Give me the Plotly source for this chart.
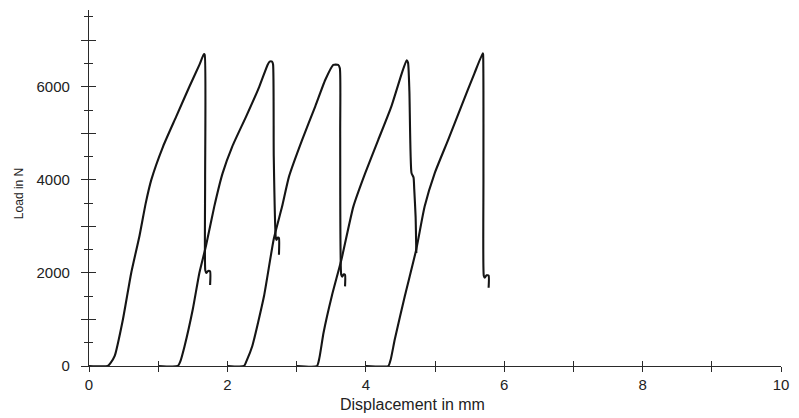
import plotly.graph_objects as go

# Load-displacement curves (Displacement in mm, Load in N)
x1 = [0.0, 0.27, 0.31, 0.37, 0.49, 0.61, 0.73, 0.82, 0.90, 1.07, 1.26, 1.45, 1.595, 1.66, 1.672, 1.678, 1.68, 1.695, 1.72, 1.75, 1.75]
y1 = [0, 0, 60, 210, 1000, 2000, 2800, 3500, 4000, 4716, 5360, 6000, 6470, 6700, 6690, 4000, 2060, 2000, 2040, 2030, 1740]

x2 = [1.0, 1.283, 1.32, 1.38, 1.50, 1.595, 1.69, 1.81, 1.93, 2.07, 2.27, 2.46, 2.58, 2.61, 2.645, 2.66, 2.67, 2.70, 2.71, 2.73, 2.745, 2.745]
y2 = [0, 0, 100, 420, 1220, 2000, 2580, 3425, 4140, 4716, 5360, 6000, 6470, 6540, 6540, 6480, 4500, 2750, 2710, 2760, 2750, 2390]

x3 = [2.0, 2.24, 2.28, 2.36, 2.53, 2.67, 2.79, 2.89, 3.08, 3.27, 3.415, 3.53, 3.60, 3.625, 3.63, 3.645, 3.66, 3.68, 3.70, 3.70]
y3 = [0, 0, 120, 430, 1510, 2730, 3425, 4070, 4860, 5580, 6150, 6470, 6470, 6400, 5000, 1960, 1920, 1970, 1960, 1710]

x4 = [3.0, 3.295, 3.33, 3.39, 3.51, 3.65, 3.82, 3.99, 4.18, 4.37, 4.52, 4.59, 4.61, 4.63, 4.66, 4.69, 4.70, 4.72, 4.73]
y4 = [0, 0, 180, 720, 1510, 2300, 3425, 4140, 4860, 5580, 6290, 6570, 6520, 5900, 4150, 4050, 3800, 3200, 2430]

x5 = [4.0, 4.325, 4.36, 4.42, 4.565, 4.73, 4.85, 4.995, 5.19, 5.38, 5.57, 5.69, 5.695, 5.70, 5.705, 5.72, 5.745, 5.775, 5.775]
y5 = [0, 0, 140, 580, 1510, 2510, 3425, 4140, 4860, 5580, 6290, 6720, 6700, 4000, 1940, 1900, 1950, 1940, 1680]

y_tick_vals = [0, 1000, 2000, 3000, 4000, 5000, 6000, 7000]
y_tick_text = ["0", "", "2000", "", "4000", "", "6000", ""]
x_tick_vals = [0, 1, 2, 3, 4, 5, 6, 7, 8, 9, 10]
x_tick_text = ["0", "", "2", "", "4", "", "6", "", "8", "", "10"]

curves = [(x1, y1), (x2, y2), (x3, y3), (x4, y4), (x5, y5)]

FONT = "Liberation Sans, Arial, sans-serif"
INK = "#151515"
AX = "#2a2a2a"
TXT = "#222"

fig = go.Figure()
for xs, ys in curves:
    fig.add_trace(go.Scatter(x=xs, y=ys, mode="lines",
                             line=dict(color=INK, width=2.1, shape="spline", smoothing=0.5),
                             showlegend=False, hoverinfo="skip"))
# invisible helper trace so the overlay axes (inner halves of ticks) are drawn
fig.add_trace(go.Scatter(x=[None], y=[None], xaxis="x2", yaxis="y2",
                         mode="lines", showlegend=False, hoverinfo="skip"))

fig.update_layout(
    width=799, height=418,
    margin=dict(l=89, r=14, t=10, b=52),
    paper_bgcolor="white", plot_bgcolor="white",
    font=dict(family=FONT, color=TXT),
    xaxis=dict(range=[0, 10], tickvals=x_tick_vals, ticktext=x_tick_text,
               ticks="outside", ticklen=5, tickcolor=AX, tickwidth=1,
               showline=True, linecolor=AX, linewidth=1.3,
               showgrid=False, zeroline=False,
               tickfont=dict(size=15, family=FONT, color=TXT)),
    yaxis=dict(range=[0, 7650], tickvals=y_tick_vals, ticktext=y_tick_text,
               ticks="outside", ticklen=7, tickcolor=AX, tickwidth=1,
               minor=dict(dtick=500, tick0=0, ticks="outside", ticklen=4, tickcolor=AX),
               showline=True, linecolor=AX, linewidth=1.3,
               showgrid=False, zeroline=False, ticklabelstandoff=8,
               tickfont=dict(size=15, family=FONT, color=TXT)),
    xaxis2=dict(range=[0, 10], overlaying="x", tickvals=x_tick_vals,
                ticks="inside", ticklen=5, tickcolor=AX, showticklabels=False,
                showgrid=False, zeroline=False, showline=False, side="bottom"),
    yaxis2=dict(range=[0, 7650], overlaying="y", tickvals=y_tick_vals,
                ticks="inside", ticklen=7, tickcolor=AX, showticklabels=False,
                minor=dict(dtick=500, tick0=0, ticks="inside", ticklen=4, tickcolor=AX),
                showgrid=False, zeroline=False, showline=False, side="left"),
    annotations=[
        dict(text="Displacement in mm", xref="paper", yref="paper",
             x=0.467, y=-0.08, xanchor="center", yanchor="top", showarrow=False,
             font=dict(size=16, family=FONT, color=TXT)),
        dict(text="Load in N", xref="paper", yref="paper",
             x=-0.1, y=0.485, xanchor="center", yanchor="middle", showarrow=False,
             textangle=-90, font=dict(size=12, family=FONT, color=TXT)),
    ],
)

fig.write_html("out.html")
